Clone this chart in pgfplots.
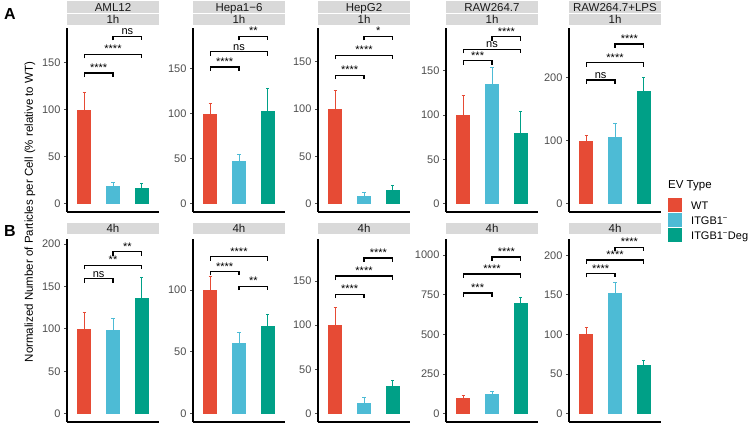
\documentclass[border=0pt]{standalone}
\usepackage{fontspec}
\setmainfont{Liberation Sans}
\usepackage{pgfplots}
\pgfplotsset{compat=1.18}
\definecolor{cwt}{HTML}{E64B35}
\definecolor{citg}{HTML}{4DBBD5}
\definecolor{cdeg}{HTML}{00A087}
\definecolor{stripc}{HTML}{D9D9D9}
\definecolor{txt}{HTML}{1A1A1A}
\definecolor{tickc}{HTML}{4D4D4D}
\pgfplotsset{
  panel/.style={
    scale only axis, width=92pt, anchor=south west,
    xmin=0.4, xmax=3.6, xtick=\empty,
    axis x line*=bottom, axis y line*=left,
    axis line style={black, line width=1.2pt},
    clip=false,
    tick align=outside, major tick length=3pt,
    major tick style={tickc, line width=0.8pt},
    yticklabel style={font=\fontsize{11}{12}\selectfont, text=tickc},
    /pgf/number format/assume math mode=true,
    scaled y ticks=false,
    /pgf/number format/1000 sep={},
  },
  rowA/.style={panel, height=184pt},
  rowB/.style={panel, height=183pt},
  bar/.style={ybar, bar width=0.5, bar shift=0pt, draw=none, fill=#1,
    error bars/.cd, y dir=plus, y explicit,
    error bar style={#1, line width=1pt},
    error mark options={#1, rotate=90, mark size=1.6pt, line width=1pt}},
}
\tikzset{sig/.style={anchor=base, yshift=1.4pt, font=\fontsize{11}{12}\selectfont, inner sep=0pt, text=black}}
\newcommand{\bars}[6]{%
  \addplot[bar=cwt] coordinates {(1,#1) +- (0,#2)};
  \addplot[bar=citg] coordinates {(2,#3) +- (0,#4)};
  \addplot[bar=cdeg] coordinates {(3,#5) +- (0,#6)};}
\newcommand{\brk}[6]{%
  \addplot[black, line width=1.2pt, mark=none] coordinates {(#1,#3) (#1,#4) (#2,#4) (#2,#3)};
  \node[sig] at (axis cs:#5,#4) {#6};}
\newcommand{\stripA}[3]{%
  \fill[stripc] (#1,412.5) rectangle ++(92,12.5);
  \fill[stripc] (#1,401) rectangle ++(92,10.5);
  \node[anchor=base, inner sep=0pt, text=txt, font=\fontsize{11.5}{12}\selectfont] at (#1+46,414.8) {#2};
  \node[anchor=base, inner sep=0pt, text=txt, font=\fontsize{11.5}{12}\selectfont] at (#1+46,402.2) {#3};}
\newcommand{\stripB}[2]{%
  \fill[stripc] (#1,192) rectangle ++(92,11);
  \node[anchor=base, inner sep=0pt, text=txt, font=\fontsize{11.5}{12}\selectfont] at (#1+46,193.4) {#2};}
\begin{document}
\begin{tikzpicture}[x=1pt,y=1pt]
\useasboundingbox (0,0) rectangle (753,426);
% ---------------- Row A ----------------
\begin{axis}[rowA, at={(67pt,214pt)}, ymin=-8.9, ymax=186.9, ytick={0,50,100,150}]
\bars{100}{18}{19}{3}{17}{4}
\brk{1}{2}{134.7}{139}{1.5}{****}
\brk{1}{3}{154.7}{159}{2}{****}
\brk{2}{3}{173.7}{178}{2.5}{ns}
\end{axis}
\begin{axis}[rowA, at={(193pt,214pt)}, ymin=-9.3, ymax=195.3, ytick={0,50,100,150}]
\bars{100}{11}{47}{8}{103}{25}
\brk{1}{2}{147.6}{152}{1.5}{****}
\brk{1}{3}{164.6}{169}{2}{ns}
\brk{2}{3}{181.6}{186}{2.5}{**}
\end{axis}
\begin{axis}[rowA, at={(318pt,214pt)}, ymin=-8.85, ymax=185.85, ytick={0,50,100,150}]
\bars{100}{20}{8}{4}{14}{5}
\brk{1}{2}{131.8}{136}{1.5}{****}
\brk{1}{3}{152.8}{157}{2}{****}
\brk{2}{3}{172.8}{177}{2.5}{*}
\end{axis}
\begin{axis}[rowA, at={(446pt,214pt)}, ymin=-9.4, ymax=198, ytick={0,50,100,150}]
\bars{100}{22}{135}{19}{80}{24}
\brk{1}{2}{156.5}{161}{1.5}{***}
\brk{1}{3}{169.5}{174}{2}{ns}
\brk{2}{3}{183.5}{188}{2.5}{****}
\end{axis}
\begin{axis}[rowA, at={(569pt,214pt)}, ymin=-13.25, ymax=278.25, ytick={0,100,200}]
\bars{100}{8}{106}{21}{179}{21}
\brk{1}{2}{189.7}{196}{1.5}{ns}
\brk{1}{3}{216.7}{223}{2}{****}
\brk{2}{3}{246.7}{253}{2.5}{****}
\end{axis}
% ---------------- Row B ----------------
\begin{axis}[rowB, at={(67pt,4pt)}, ymin=-9.8, ymax=205.8, ytick={0,50,100,150,200}]
\bars{100}{19}{99}{13}{136}{25}
\brk{1}{2}{154.3}{159}{1.5}{ns}
\brk{1}{3}{170.3}{175}{2}{**}
\brk{2}{3}{186.3}{191}{2.5}{**}
\end{axis}
\begin{axis}[rowB, at={(193pt,4pt)}, ymin=-6.7, ymax=141.2, ytick={0,50,100}]
\bars{100}{11}{57}{9}{71}{9}
\brk{1}{2}{111.8}{115}{1.5}{****}
\brk{2}{3}{99.8}{103}{2.5}{**}
\brk{1}{3}{123.8}{127}{2}{****}
\end{axis}
\begin{axis}[rowB, at={(318pt,4pt)}, ymin=-9.4, ymax=197.4, ytick={0,50,100,150}]
\bars{100}{20}{12}{6}{31}{6}
\brk{1}{2}{130.5}{135}{1.5}{****}
\brk{1}{3}{151}{155.5}{2}{****}
\brk{2}{3}{171.5}{176}{2.5}{****}
\end{axis}
\begin{axis}[rowB, at={(446pt,4pt)}, ymin=-52.4, ymax=1100.4, ytick={0,250,500,750,1000}]
\bars{100}{13}{124}{15}{697}{38}
\brk{1}{2}{735}{760}{1.5}{***}
\brk{1}{3}{855}{880}{2}{****}
\brk{2}{3}{962}{987}{2.5}{****}
\end{axis}
\begin{axis}[rowB, at={(569pt,4pt)}, ymin=-10.5, ymax=220.5, ytick={0,50,100,150,200}]
\bars{100}{9}{152}{14}{61}{6}
\brk{1}{2}{172}{177}{1.5}{****}
\brk{1}{3}{189}{194}{2}{****}
\brk{2}{3}{205}{210}{2.5}{****}
\end{axis}
% ---------------- strips ----------------
\stripA{67}{AML12}{1h}
\stripA{193}{Hepa1−6}{1h}
\stripA{318}{HepG2}{1h}
\stripA{446}{RAW264.7}{1h}
\stripA{569}{RAW264.7+LPS}{1h}
\stripB{67}{4h}
\stripB{193}{4h}
\stripB{318}{4h}
\stripB{446}{4h}
\stripB{569}{4h}
% ---------------- labels ----------------
\node[rotate=90, font=\fontsize{11.5}{13}\selectfont, text=black] at (30,214) {Normalized Number of Particles per Cell (\% relative to WT)};
\node[font=\bfseries\fontsize{16}{16}\selectfont] at (10,412) {A};
\node[font=\bfseries\fontsize{16}{16}\selectfont] at (10,195) {B};
% ---------------- legend ----------------
\node[anchor=base west, inner sep=0pt, font=\fontsize{11.5}{13}\selectfont, text=black] at (668,237) {EV Type};
\fill[cwt] (668,213.5) rectangle (682,228);
\fill[citg] (668,198.5) rectangle (682,212.5);
\fill[cdeg] (668,183.5) rectangle (682,197.5);
\node[anchor=base west, inner sep=0pt, font=\fontsize{11}{13}\selectfont, text=black] at (691,216.8) {WT};
\node[anchor=base west, inner sep=0pt, font=\fontsize{11}{13}\selectfont, text=black] at (691,201.5) {ITGB1\textsuperscript{−}};
\node[anchor=base west, inner sep=0pt, font=\fontsize{11}{13}\selectfont, text=black] at (691,186.5) {ITGB1\textsuperscript{−}Deg};
\end{tikzpicture}
\end{document}
